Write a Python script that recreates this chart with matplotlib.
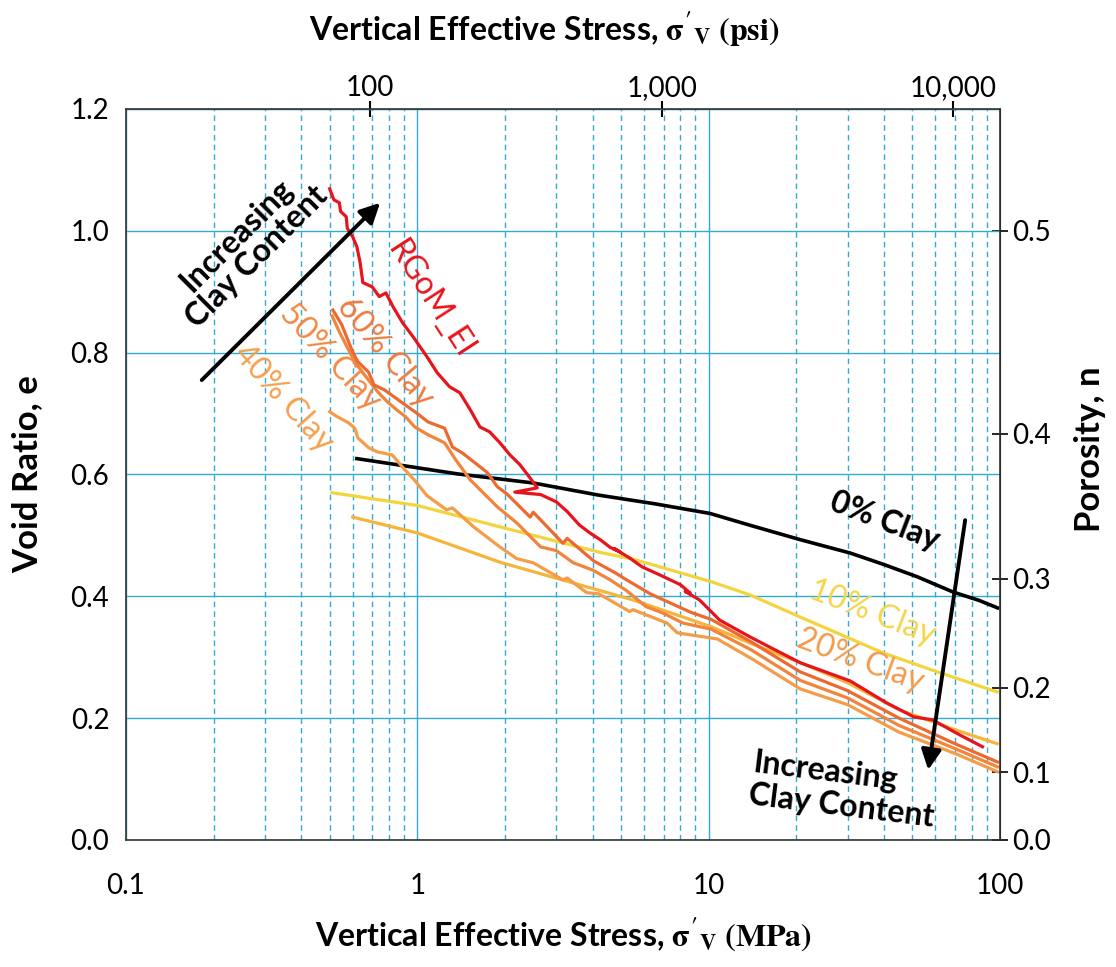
#!/usr/bin/env python3
"""Void ratio vs vertical effective stress for clay/silt mixtures (compression curves)."""

import matplotlib

matplotlib.use('Agg')
import matplotlib.pyplot as plt
from matplotlib.ticker import FixedLocator, NullLocator, FixedFormatter

plt.rcParams['font.family'] = ['Lato', 'DejaVu Sans']
plt.rcParams['mathtext.fontset'] = 'stix'

# ---- data (stress in MPa, void ratio e) ----
clay0_x = [0.62, 1.0, 1.37, 2.5, 4.2, 6.5, 10.1, 14.0, 20.6, 30.6, 40.0, 52.0, 69.0, 85.0, 98.0]
clay0_e = [0.626, 0.611, 0.601, 0.586, 0.566, 0.552, 0.536, 0.516, 0.493, 0.471, 0.452, 0.432, 0.407, 0.393, 0.381]

clay10_x = [0.51, 1.0, 1.92, 4.24, 5.5, 10.2, 13.9, 20.6, 39.7, 60.0, 97.7]
clay10_e = [0.570, 0.549, 0.514, 0.472, 0.461, 0.424, 0.402, 0.366, 0.307, 0.277, 0.243]

clay20_x = [0.60, 1.0, 1.92, 5.5, 10.2, 13.9, 20.6, 30.0, 45.4, 70.0, 97.7]
clay20_e = [0.530, 0.504, 0.456, 0.394, 0.350, 0.323, 0.291, 0.258, 0.213, 0.181, 0.158]

rgom_x = [0.50, 0.517, 0.54, 0.545, 0.57, 0.575, 0.60, 0.62, 0.636, 0.65, 0.70, 0.74, 0.78, 0.826,
          0.89, 0.967, 1.08, 1.17, 1.29, 1.40, 1.52, 1.64, 1.77, 1.92, 2.08, 2.25, 2.44, 2.58,
          2.16, 2.65, 3.0, 3.27, 3.6, 3.91, 4.24, 4.6, 4.96, 4.75, 5.35, 5.92, 6.8, 8.0, 8.65,
          8.3, 9.3, 10.9, 13.9, 16.9, 20.6, 30.6, 40.8, 50.6, 58.7, 73.0, 87.0]
rgom_e = [1.069, 1.051, 1.046, 1.032, 1.023, 1.004, 0.990, 0.974, 0.948, 0.915, 0.908, 0.892, 0.898, 0.875,
          0.849, 0.826, 0.793, 0.767, 0.744, 0.734, 0.706, 0.678, 0.670, 0.652, 0.632, 0.616, 0.594, 0.578,
          0.571, 0.567, 0.555, 0.539, 0.517, 0.504, 0.493, 0.480, 0.473, 0.478, 0.463, 0.448, 0.435, 0.419, 0.405,
          0.408, 0.394, 0.361, 0.333, 0.312, 0.291, 0.261, 0.225, 0.202, 0.197, 0.172, 0.153]

clay60_x = [0.513, 0.55, 0.60, 0.625, 0.68, 0.71, 0.77, 0.84, 0.91, 0.98, 1.09, 1.24, 1.32, 1.43, 1.74,
            1.88, 2.03, 2.44, 2.50, 3.16, 3.27, 4.03, 4.8, 5.1, 6.1, 6.3, 8.65, 10.2, 14.0, 20.6, 30.0,
            45.0, 70.0, 98.0]
clay60_e = [0.870, 0.846, 0.801, 0.785, 0.768, 0.747, 0.739, 0.726, 0.714, 0.703, 0.686, 0.676, 0.645, 0.635, 0.603,
            0.580, 0.568, 0.530, 0.538, 0.487, 0.495, 0.458, 0.438, 0.430, 0.408, 0.404, 0.374, 0.362, 0.325, 0.276, 0.245,
            0.200, 0.158, 0.128]

clay50_x = [0.51, 0.54, 0.58, 0.61, 0.65, 0.70, 0.73, 0.79, 0.85, 0.91, 0.98, 1.09, 1.24, 1.35, 1.52, 1.88,
            2.2, 2.65, 3.0, 3.43, 4.0, 4.59, 5.2, 6.1, 7.0, 8.16, 10.2, 14.0, 20.6, 30.0, 45.0, 70.0, 98.0]
clay50_e = [0.860, 0.834, 0.805, 0.785, 0.767, 0.747, 0.736, 0.719, 0.706, 0.695, 0.678, 0.665, 0.652, 0.625, 0.591, 0.547,
            0.520, 0.481, 0.475, 0.455, 0.443, 0.427, 0.410, 0.383, 0.372, 0.356, 0.346, 0.312, 0.262, 0.233, 0.188, 0.150, 0.120]

clay40_x = [0.50, 0.53, 0.58, 0.61, 0.625, 0.68, 0.73, 0.82, 0.89, 0.98, 1.08, 1.26, 1.32, 1.56, 1.92, 2.19,
            2.5, 3.16, 3.27, 3.81, 4.2, 5.35, 5.5, 7.2, 7.8, 10.7, 14.0, 20.6, 30.0, 45.0, 70.0, 98.0]
clay40_e = [0.703, 0.695, 0.685, 0.676, 0.660, 0.644, 0.637, 0.632, 0.612, 0.590, 0.565, 0.542, 0.545, 0.514, 0.481, 0.462,
            0.455, 0.427, 0.430, 0.406, 0.404, 0.375, 0.378, 0.356, 0.340, 0.330, 0.298, 0.248, 0.222, 0.177, 0.142, 0.112]

porosity_ticks = [0.0, 0.1, 0.2, 0.3, 0.4, 0.5]
psi_ticks = [100, 1000, 10000]
psi_labels = ['100', '1,000', '10,000']
mpa_ticks = [0.1, 1, 10, 100]
mpa_labels = ['0.1', '1', '10', '100']
void_ticks = [0.0, 0.2, 0.4, 0.6, 0.8, 1.0, 1.2]

MPA_TO_PSI = 145.038
GRID = '#34A9D1'

fig = plt.figure(figsize=(11.16, 9.67), dpi=100)
ax = fig.add_axes([0.1129, 0.1314, 0.7832, 0.7559])

ax.set_xscale('log')
ax.set_xlim(0.1, 100)
ax.set_ylim(0, 1.2)

# grid: solid decades + horizontal, dashed minor
ax.set_yticks(void_ticks)
ax.set_yticklabels([f'{v:.1f}' for v in void_ticks])
ax.xaxis.set_major_locator(FixedLocator(mpa_ticks))
ax.xaxis.set_major_formatter(FixedFormatter(mpa_labels))
minor = [m * d for d in (0.1, 1, 10) for m in range(2, 10)]
ax.xaxis.set_minor_locator(FixedLocator(minor))
ax.grid(which='major', color=GRID, lw=1.0)
ax.grid(which='minor', axis='x', color=GRID, lw=1.0, ls=(0, (4, 3)))
ax.tick_params(which='both', length=0, labelsize=20, pad=12)
ax.tick_params(axis='x', pad=24)
for s in ax.spines.values():
    s.set_color('#333333')
    s.set_linewidth(1.2)

lw = 2.3
ax.plot(clay0_x, clay0_e, color='black', lw=2.6)
ax.plot(clay10_x, clay10_e, color='#F4D43C', lw=lw)
ax.plot(clay20_x, clay20_e, color='#F6B43A', lw=lw)
ax.plot(clay40_x, clay40_e, color='#F59C48', lw=lw)
ax.plot(clay50_x, clay50_e, color='#F2843C', lw=lw)
ax.plot(clay60_x, clay60_e, color='#EC6A30', lw=lw)
ax.plot(rgom_x, rgom_e, color='#E8141C', lw=lw)

# labels on curves
lab = dict(fontsize=23, ha='center', va='center')
ax.text(40.2, 0.523, '0% Clay', color='black', rotation=-21, fontweight='bold', **lab)
ax.text(36.4, 0.373, '10% Clay', color='#F5D54A', rotation=-21, **lab)
ax.text(33.2, 0.294, '20% Clay', color='#F39A4C', rotation=-20, **lab)
ax.text(1.11, 0.887, 'RGoM_EI', color='#E8141C', rotation=-57, **lab)
ax.text(0.775, 0.801, '60% Clay', color='#EE7A3F', rotation=-50, **lab)
ax.text(0.502, 0.793, '50% Clay', color='#F08A45', rotation=-47, **lab)
ax.text(0.346, 0.726, '40% Clay', color='#F5A14E', rotation=-48, **lab)

arrow = dict(arrowstyle='-|>', color='black', lw=2.8, mutation_scale=30, shrinkA=0, shrinkB=0)
ax.annotate('', xy=(0.745, 1.046), xytext=(0.182, 0.755), arrowprops=arrow)
ax.annotate('', xy=(56.7, 0.115), xytext=(75.9, 0.525), arrowprops=arrow)
ax.text(0.260, 0.975, 'Increasing\nClay Content', color='black', rotation=45,
        linespacing=1.0, fontweight='bold', **lab)
ax.text(29.0, 0.082, 'Increasing\nClay Content', color='black', rotation=-7,
        linespacing=1.15, multialignment='left', fontweight='bold', **lab)

ax.set_ylabel('Void Ratio, e', fontsize=25, fontweight='bold', labelpad=20)
ax.set_xlabel(r"Vertical Effective Stress, $\mathbf{\sigma'_{V}\ (MPa)}$", fontsize=23,
              fontweight='bold', labelpad=12)

# top axis in psi
top = ax.secondary_xaxis('top', functions=(lambda x: x * MPA_TO_PSI, lambda x: x / MPA_TO_PSI))
top.xaxis.set_major_locator(FixedLocator(psi_ticks))
top.xaxis.set_major_formatter(FixedFormatter(psi_labels))
top.xaxis.set_minor_locator(NullLocator())
top.tick_params(direction='inout', length=12, width=1.5, labelsize=20, pad=0)
fig.text(0.488, 0.970, r"Vertical Effective Stress, $\mathbf{\sigma'_{V}\ (psi)}$", fontsize=23,
         fontweight='bold', ha='center', va='center')

# right axis in porosity
right = ax.secondary_yaxis('right', functions=(lambda e: e / (1 + e), lambda n: n / (1 - n)))
right.yaxis.set_major_locator(FixedLocator(porosity_ticks))
right.yaxis.set_major_formatter(FixedFormatter([f'{n:.1f}' for n in porosity_ticks]))
right.yaxis.set_minor_locator(NullLocator())
right.tick_params(direction='inout', length=12, width=1.2, labelsize=20, pad=3)
fig.text(0.977, 0.535, 'Porosity, n', rotation=90, fontsize=25, fontweight='bold',
         ha='center', va='center')

fig.savefig('out.png', dpi=100)
